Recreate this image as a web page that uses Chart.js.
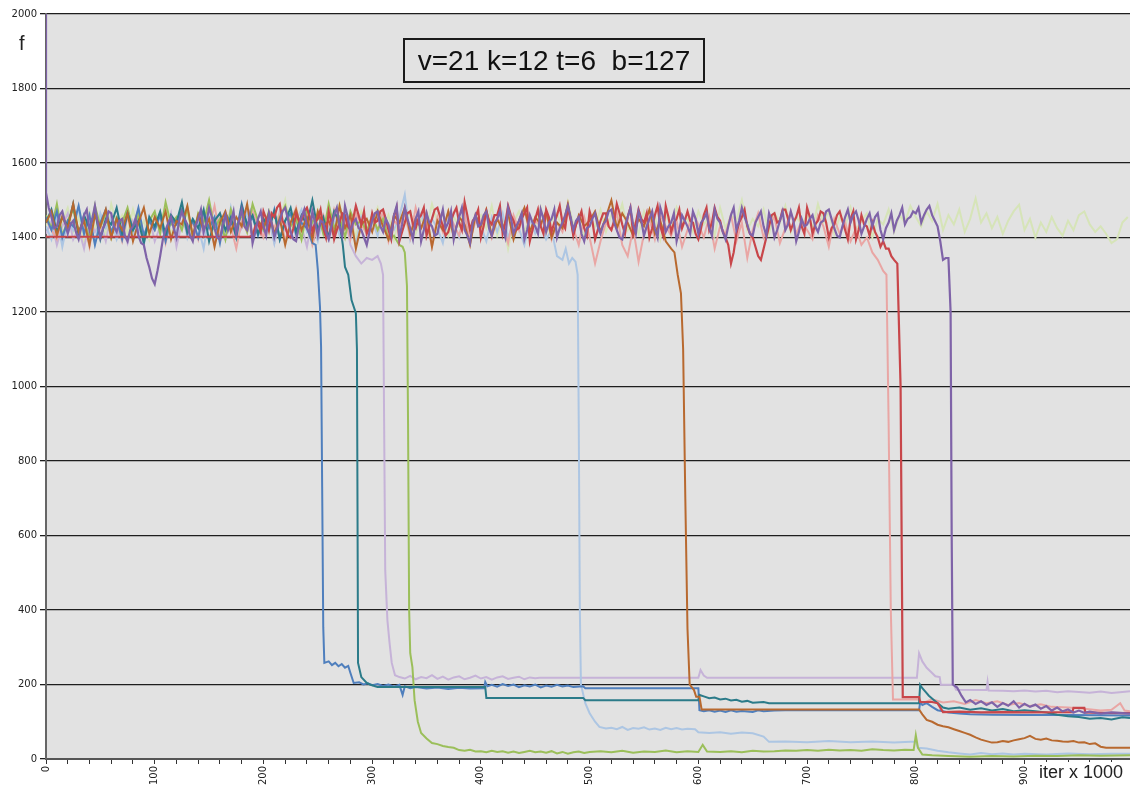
<!DOCTYPE html>
<html>
<head>
<meta charset="utf-8">
<script src="https://cdn.jsdelivr.net/npm/chart.js@4/dist/chart.umd.min.js"></script>
<style>
  body { margin: 0; background: #fff; }
  #wrap { position: relative; width: 1130px; height: 789px; }
  #titleBox {
    position: absolute; left: 403px; top: 38px; width: 298px; height: 41px;
    border: 2px solid #1a1a1a; font: 28px "Liberation Sans", Arial, sans-serif;
    color: #111; white-space: pre; text-align: center; line-height: 42px;
  }
  #yLabel { position: absolute; left: 19px; top: 32px; font: 20px "Liberation Sans", Arial, sans-serif; color: #222; }
  #xLabel { position: absolute; left: 1037px; top: 762px; font: 18px "Liberation Sans", Arial, sans-serif; color: #222; background: #fff; padding-left: 2px; }
</style>
</head>
<body>
<div id="wrap">
  <canvas id="grafico" width="1130" height="789"></canvas>
  <div id="titleBox">v=21 k=12 t=6  b=127</div>
  <div id="yLabel">f</div>
  <div id="xLabel">iter x 1000</div>
</div>
<script>
// purple: spike at start, plateau 0..827.5 (step 2.5), drop at ~832
const purpleHead = [[0, 2000]];
const purpleNoise = [
  1520,1480,1455,1425,1430,1460,1470,1440,1410,1435,1445,1415,1395,1430,1460,1475,1420,1450,1485,1440,
  1400,1425,1440,1470,1465,1430,1415,1445,1450,1405,1390,1420,1430,1450,1405,1385,1380,1345,1320,1290,
  1275,1310,1350,1395,1420,1440,1455,1425,1400,1445,1470,1450,1435,1405,1390,1430,1450,1475,1415,1440,
  1480,1455,1425,1400,1395,1435,1460,1420,1440,1470,1410,1445,1475,1430,1420,1460,1385,1415,1450,1470,
  1430,1405,1465,1440,1400,1425,1445,1470,1480,1450,1415,1395,1390,1430,1455,1475,1425,1410,1470,1440,
  1405,1445,1440,1415,1395,1430,1460,1480,1430,1405,1485,1455,1410,1440,1450,1425,1420,1400,1380,1415,
  1445,1465,1470,1430,1415,1450,1435,1405,1460,1485,1400,1435,1480,1450,1425,1395,1450,1470,1390,1420,
  1465,1440,1430,1405,1410,1445,1475,1425,1440,1470,1395,1430,1455,1480,1420,1405,1385,1440,1460,1430,
  1435,1460,1470,1425,1405,1440,1450,1470,1425,1400,1480,1455,1410,1430,1445,1465,1395,1420,1460,1440,
  1430,1410,1475,1450,1415,1440,1450,1475,1400,1425,1440,1460,1485,1455,1420,1445,1455,1410,1390,1425,
  1430,1450,1465,1430,1410,1435,1445,1470,1475,1440,1420,1400,1395,1430,1455,1480,1435,1410,1470,1445,
  1405,1430,1450,1470,1425,1400,1480,1455,1415,1430,1440,1465,1390,1420,1460,1445,1430,1410,1470,1450,
  1410,1440,1450,1465,1425,1405,1475,1450,1440,1415,1395,1430,1460,1480,1420,1445,1480,1455,1435,1410,
  1405,1440,1455,1470,1430,1405,1465,1445,1400,1420,1445,1470,1420,1435,1470,1445,1390,1415,1450,1430,
  1435,1450,1460,1430,1415,1440,1445,1470,1475,1450,1425,1405,1400,1430,1455,1475,1440,1460,1470,1445,
  1410,1430,1450,1465,1430,1455,1465,1420,1395,1425,1440,1465,1420,1445,1460,1480,1435,1450,1455,1470,
  1465,1480,1440,1460,1475,1485,1460,1445,1430,1390,1340,1345
];
const purpleTail = [
  [830,1345],[832,1200],[833,600],[834,200],[838,192],[842,170],[846,152],[850,158],[855,148],[860,155],
  [865,145],[870,152],[875,140],[880,150],[885,143],[890,155],[895,138],[900,148],[905,140],[910,146],
  [915,135],[920,142],[925,130],[930,138],[935,128],[940,133],[945,125],[950,130],[955,124],[960,127],
  [970,122],[980,125],[997,122]
];

// red: flat best value, then plateau 190..777.5 (step 2.5), drop at ~787
const redHead = [[0,1402],[187,1402]];
const redNoise = [
  1405,1430,1440,1415,1470,1450,1420,1465,1455,1480,1490,1445,1430,1405,1400,1425,1465,1445,1445,1470,
  1480,1455,1415,1440,1450,1475,1425,1400,1470,1440,1395,1420,1440,1465,1460,1430,1420,1450,1485,1460,
  1435,1470,1410,1425,1465,1440,1445,1470,1475,1450,1420,1395,1455,1480,1390,1415,1440,1465,1470,1435,
  1425,1450,1460,1480,1405,1430,1450,1475,1480,1455,1430,1405,1415,1445,1465,1480,1440,1420,1495,1460,
  1420,1445,1455,1475,1400,1430,1470,1445,1435,1460,1460,1485,1410,1440,1485,1460,1445,1420,1425,1450,
  1465,1480,1390,1420,1450,1475,1430,1410,1475,1455,1415,1440,1460,1485,1440,1425,1480,1450,1405,1435,
  1450,1470,1425,1405,1470,1445,1395,1420,1445,1465,1465,1430,1420,1445,1490,1465,1435,1410,1455,1480,
  1410,1440,1475,1450,1440,1465,1400,1425,1460,1485,1430,1405,1485,1455,1415,1440,1450,1475,1425,1445,
  1470,1445,1440,1410,1395,1425,1460,1480,1420,1440,1480,1455,1445,1415,1400,1380,1330,1360,1410,1440,
  1455,1475,1430,1410,1400,1375,1350,1340,1370,1400,1430,1460,1465,1440,1445,1475,1475,1450,1420,1440,
  1455,1480,1430,1410,1480,1455,1410,1435,1445,1470,1465,1440,1400,1425,1435,1460,1470,1445,1420,1395,
  1450,1470,1395,1420,1460,1435,1430,1405,1440,1415,1400,1375,1390,1370,1370,1350
];
const redTail = [
  [780,1340],[783,1330],[786,1000],[788,166],[795,166],[803,166],[804,153],[815,153],[820,150],[825,126],
  [840,127],[860,125],[880,126],[900,125],[944,126],[945,137],[955,137],[956,125],[970,124],[997,123]
];

// pink: plateau 0..770 (step 5), drop at ~776
const pinkNoise = [
  1450,1420,1395,1465,1430,1480,1405,1445,1375,1460,1425,1470,1410,1440,1390,1455,1430,1475,1400,1445,
  1420,1465,1385,1450,1435,1475,1410,1440,1395,1460,1425,1485,1405,1450,1430,1370,1445,1415,1470,1435,
  1400,1455,1425,1465,1390,1440,1480,1415,1450,1380,1430,1460,1405,1475,1425,1445,1395,1465,1435,1410,
  1455,1420,1470,1390,1445,1430,1465,1400,1480,1425,1440,1375,1455,1415,1470,1435,1405,1460,1390,1445,
  1425,1470,1400,1450,1435,1385,1460,1420,1475,1410,1445,1430,1465,1395,1440,1415,1470,1425,1380,1455,
  1400,1330,1390,1440,1420,1465,1380,1350,1425,1335,1410,1450,1395,1460,1430,1405,1445,1375,1420,1465,
  1435,1400,1455,1370,1430,1410,1460,1390,1440,1345,1420,1465,1400,1435,1455,1385,1425,1470,1410,1445,
  1420,1395,1460,1430,1375,1450,1410,1440,1390,1425,1380,1400,1360,1340,1310
];
const pinkTail = [
  [773,1300],[775,900],[777,400],[779,160],[790,160],[803,160],[806,150],[815,160],[825,152],[835,155],
  [845,148],[855,158],[865,150],[875,155],[885,145],[895,150],[905,142],[915,147],[925,140],[940,138],
  [955,135],[970,130],[980,132],[988,150],[992,130],[997,128]
];

// brown: plateau 0..575 (step 5), drop at ~588
const brownNoise = [
  1440,1470,1405,1455,1425,1490,1415,1445,1380,1460,1430,1475,1400,1450,1420,1465,1390,1440,1480,1410,
  1455,1425,1470,1395,1445,1435,1485,1405,1460,1420,1450,1375,1440,1470,1415,1455,1430,1490,1400,1445,
  1425,1465,1410,1450,1380,1440,1475,1420,1455,1395,1470,1430,1445,1405,1485,1425,1460,1370,1435,1450,
  1415,1470,1430,1395,1460,1440,1480,1410,1450,1425,1465,1375,1445,1420,1470,1400,1455,1435,1380,1460,
  1430,1475,1405,1450,1420,1465,1395,1445,1480,1415,1455,1435,1470,1400,1440,1425,1490,1410,1460,1430,
  1445,1470,1415,1455,1500,1425,1465,1440,1405,1450,1430,1475,1410,1445,1390,1370
];
const brownTail = [
  [578,1360],[581,1300],[584,1250],[586,1100],[588,700],[590,350],[592,200],[596,185],[598,167],[601,167],
  [603,133],[803,133],[806,120],[810,105],[815,100],[820,92],[825,88],[830,85],[835,80],[840,75],
  [845,70],[850,65],[855,58],[860,52],[865,48],[870,44],[875,45],[880,48],[885,46],[890,50],
  [895,53],[900,56],[905,62],[910,54],[915,52],[920,55],[925,50],[930,49],[935,47],[940,46],
  [945,48],[950,44],[955,45],[960,40],[965,42],[970,33],[975,30],[997,30]
];

// light blue: plateau 0..470 (step 5), drop at ~490
const lightBlueNoise = [
  1430,1395,1460,1375,1445,1420,1480,1405,1440,1385,1465,1425,1450,1395,1435,1470,1410,1445,1380,1455,
  1425,1465,1390,1440,1415,1475,1400,1450,1430,1370,1460,1420,1445,1395,1480,1410,1435,1465,1405,1440,
  1420,1455,1385,1470,1430,1400,1445,1475,1415,1440,1390,1460,1425,1450,1405,1465,1435,1380,1455,1420,
  1445,1405,1470,1430,1420,1455,1515,1395,1440,1465,1410,1450,1425,1385,1460,1435,1400,1470,1420,1445,
  1430,1390,1455,1415,1465,1400,1440,1425,1380,1450,1410,1435,1395,1420,1350
];
const lightBlueTail = [
  [475,1340],[478,1370],[481,1330],[484,1345],[487,1335],[489,1300],[490,900],[491,400],[492,200],[496,150],
  [500,123],[505,100],[509,86],[515,82],[520,84],[525,80],[530,86],[535,78],[540,83],[545,81],
  [550,85],[555,79],[560,82],[565,78],[570,84],[575,80],[580,83],[585,79],[590,81],[597,80],
  [600,72],[610,70],[620,72],[630,68],[640,71],[650,69],[660,60],[665,46],[680,47],[700,45],
  [720,48],[740,45],[760,47],[780,44],[795,46],[800,46],[802,30],[810,28],[820,22],[830,18],
  [840,15],[850,12],[860,16],[870,13],[880,15],[890,12],[900,14],[920,12],[940,15],[960,13],
  [980,14],[997,14]
];

// green: plateau 0..325 (step 5), drop at ~333
const greenNoise = [
  1460,1425,1490,1405,1445,1475,1415,1450,1395,1485,1430,1465,1400,1455,1440,1480,1420,1460,1390,1445,
  1470,1410,1495,1435,1455,1420,1480,1400,1465,1440,1500,1425,1450,1395,1475,1430,1460,1415,1490,1445,
  1420,1470,1405,1455,1485,1430,1450,1395,1475,1440,1465,1410,1490,1425,1455,1400,1470,1435,1445,1415,
  1460,1420,1450,1395,1405,1380
];
const greenTail = [
  [328,1375],[330,1360],[332,1270],[333,900],[334,400],[335,284],[337,247],[339,158],[342,100],[345,70],
  [350,55],[355,43],[360,40],[365,35],[370,32],[375,30],[380,24],[385,22],[390,25],[395,20],
  [400,21],[405,18],[410,22],[415,19],[420,21],[425,17],[430,20],[435,16],[440,19],[445,22],
  [450,18],[455,20],[460,17],[465,21],[470,15],[475,19],[480,14],[485,18],[490,20],[495,16],
  [500,19],[510,21],[520,18],[530,22],[540,17],[550,20],[560,19],[570,23],[580,18],[590,21],
  [600,19],[604,38],[608,20],[620,19],[630,21],[640,18],[650,22],[660,20],[670,21],[680,23],
  [690,22],[700,24],[710,22],[720,25],[730,23],[740,24],[750,22],[760,26],[770,24],[780,23],
  [790,25],[798,24],[800,64],[802,30],[806,12],[815,10],[830,8],[850,6],[870,8],[890,7],
  [910,9],[930,8],[950,10],[970,9],[997,10]
];

// lavender: plateau 0..295 (step 5), drop at ~311
const lavenderNoise = [
  1410,1445,1380,1430,1465,1395,1425,1370,1450,1415,1440,1390,1460,1405,1435,1385,1445,1420,1400,1455,
  1390,1430,1410,1465,1375,1440,1420,1395,1450,1405,1435,1380,1460,1415,1445,1400,1425,1470,1390,1435,
  1415,1450,1385,1440,1420,1465,1400,1430,1375,1455,1410,1445,1395,1435,1420,1460,1380,1350,1330,1345
];
const lavenderTail = [
  [300,1340],[305,1350],[308,1330],[310,1300],[311,900],[312,507],[314,373],[316,311],[318,258],[321,225],
  [325,220],[330,216],[335,223],[340,214],[345,220],[350,217],[355,225],[360,215],[365,221],[370,213],
  [375,219],[380,222],[385,214],[390,218],[395,224],[400,216],[405,220],[410,213],[415,219],[420,222],
  [425,215],[430,218],[435,221],[440,214],[445,219],[450,217],[454,218],[600,218],[602,239],[605,224],
  [608,218],[801,218],[803,284],[806,262],[810,245],[815,231],[818,222],[822,220],[823,199],[835,199],
  [837,186],[865,185],[866,207],[867,184],[880,183],[890,182],[900,184],[910,181],[920,183],[930,179],
  [940,182],[950,180],[960,178],[970,181],[980,177],[990,180],[997,182]
];

// teal: plateau 0..270 (step 5), drop at ~286
const tealNoise = [
  1440,1475,1415,1455,1430,1490,1405,1460,1425,1470,1395,1450,1435,1480,1410,1465,1420,1445,1385,1455,
  1430,1470,1405,1460,1440,1495,1415,1450,1425,1475,1390,1445,1465,1420,1455,1400,1485,1435,1460,1410,
  1450,1425,1470,1395,1445,1480,1415,1460,1435,1500,1420,1455,1400,1470,1440
];
const tealTail = [
  [273,1380],[275,1321],[278,1300],[281,1232],[285,1197],[286,1100],[287,258],[290,220],[295,204],[298,200],
  [302,196],[305,193],[404,193],[405,164],[494,164],[496,158],[600,158],[601,172],[605,168],[610,163],
  [615,165],[620,160],[625,162],[630,157],[635,159],[640,154],[645,156],[650,151],[660,153],[665,150],
  [803,150],[804,199],[806,190],[809,180],[812,170],[816,160],[820,150],[825,138],[830,135],[840,138],
  [850,132],[860,136],[870,130],[880,134],[890,128],[900,131],[910,128],[920,125],[930,119],[940,115],
  [950,113],[960,108],[970,110],[980,106],[990,112],[997,110]
];

// blue: plateau 0..245 (step 5), drop at ~254
const blueNoise = [
  1455,1420,1470,1400,1445,1430,1485,1410,1460,1380,1440,1475,1415,1450,1395,1465,1425,1480,1405,1445,
  1420,1460,1390,1450,1435,1475,1410,1445,1400,1470,1425,1455,1385,1465,1440,1415,1490,1430,1455,1405,
  1450,1420,1475,1395,1445,1465,1410,1440,1425,1385
];
const blueTail = [
  [248,1380],[250,1313],[252,1213],[253,1106],[254,730],[255,354],[256,258],[260,262],[263,252],[266,258],
  [269,249],[272,255],[275,245],[278,250],[280,231],[283,204],[288,206],[292,200],[296,203],[300,198],
  [305,201],[310,196],[315,200],[320,194],[325,199],[328,172],[330,195],[335,190],[340,193],[350,189],
  [360,192],[370,188],[380,191],[390,189],[403,190],[404,207],[406,195],[410,199],[415,194],[420,201],
  [425,196],[430,200],[435,193],[440,198],[445,195],[450,200],[455,192],[460,197],[465,194],[470,199],
  [475,195],[480,197],[485,193],[494,195],[496,190],[600,190],[601,131],[605,128],[610,131],[615,127],
  [620,130],[625,126],[630,131],[635,127],[640,129],[650,126],[655,131],[660,128],[670,130],[680,131],
  [803,131],[804,153],[806,145],[810,150],[815,140],[820,131],[825,128],[830,125],[840,122],[850,120],
  [870,119],[900,118],[940,118],[997,117]
];

// light green: never drops (step 5)
const lightGreenNoise = [
  1430,1465,1400,1445,1480,1415,1455,1390,1470,1425,1450,1405,1490,1435,1460,1410,1475,1420,1445,1395,
  1465,1430,1485,1410,1450,1425,1470,1400,1455,1440,1495,1415,1460,1435,1475,1405,1445,1420,1480,1430,
  1455,1410,1470,1440,1500,1420,1460,1395,1450,1430,1475,1415,1465,1440,1490,1425,1455,1400,1470,1435,
  1445,1480,1420,1460,1395,1455,1435,1470,1410,1450,1425,1490,1440,1465,1405,1455,1430,1475,1415,1445,
  1460,1425,1485,1405,1450,1370,1440,1470,1415,1455,1430,1480,1410,1445,1465,1420,1495,1435,1450,1400,
  1455,1430,1475,1415,1460,1440,1490,1420,1445,1410,1470,1435,1455,1395,1465,1425,1480,1440,1450,1415,
  1470,1435,1455,1405,1480,1425,1460,1445,1500,1420,1450,1430,1475,1410,1465,1440,1485,1415,1455,1435,
  1460,1425,1490,1440,1470,1410,1455,1430,1480,1420,1445,1465,1400,1450,1435,1475,1415,1460,1440,1485,
  1455,1430,1470,1445,1490,1420,1460,1435,1475,1415,1450,1505,1440,1465,1425,1455,1410,1445,1470,1488,
  1420,1450,1400,1440,1415,1455,1425,1405,1445,1420,1460,1470,1435,1415,1430,1410,1385,1395,1440,1455
];

const xTicksMajor = [0, 100, 200, 300, 400, 500, 600, 700, 800, 900];

function toPoints(head, noise, start, step, tail) {
  const pts = head.map(p => ({ x: p[0], y: p[1] }));
  noise.forEach((y, i) => pts.push({ x: start + i * step, y: y }));
  tail.forEach(p => pts.push({ x: p[0], y: p[1] }));
  return pts;
}

function linea(pts, color, width) {
  return { data: pts, borderColor: color, borderWidth: width || 2, pointRadius: 0, tension: 0, fill: false };
}

// first dataset is painted on top
const datasets = [
  linea(toPoints(purpleHead, purpleNoise, 0, 2.5, purpleTail), '#7f63a8', 2.2),
  linea(toPoints(redHead, redNoise, 190, 2.5, redTail), '#c8464a', 2.2),
  linea(toPoints([], brownNoise, 0, 5, brownTail), '#b8692f'),
  linea(toPoints([], tealNoise, 0, 5, tealTail), '#2b7b89'),
  linea(toPoints([], blueNoise, 0, 5, blueTail), '#4f7fbd'),
  linea(toPoints([], greenNoise, 0, 5, greenTail), '#9bbf5a'),
  linea(toPoints([], pinkNoise, 0, 5, pinkTail), '#e9a6a4'),
  linea(toPoints([], lightBlueNoise, 0, 5, lightBlueTail), '#adc6e3'),
  linea(toPoints([], lavenderNoise, 0, 5, lavenderTail), '#c6b3d8'),
  linea(toPoints([], lightGreenNoise, 0, 5, []), '#d6e4b8')
];

// gray plot area
const fondoGris = {
  id: 'fondoGris',
  beforeDraw(chart) {
    const a = chart.chartArea;
    const ctx = chart.ctx;
    ctx.save();
    ctx.fillStyle = '#e2e2e2';
    ctx.fillRect(a.left, a.top, a.right - a.left, a.bottom - a.top);
    ctx.restore();
  }
};

const ctx = document.getElementById('grafico').getContext('2d');
new Chart(ctx, {
  type: 'line',
  data: { datasets: datasets },
  plugins: [fondoGris],
  options: {
    responsive: false,
    animation: false,
    plugins: { legend: { display: false }, tooltip: { enabled: false } },
    layout: { padding: { top: 14, right: 0, left: 0, bottom: 0 } },
    scales: {
      x: {
        type: 'linear', min: 0, max: 997,
        afterFit: s => { s.height = 30; },
        ticks: {
          stepSize: 20, autoSkip: false, includeBounds: false,
          maxRotation: 90, minRotation: 90, padding: 2,
          color: '#222', font: { family: 'DejaVu Sans', size: 10 },
          callback: v => xTicksMajor.includes(v) ? String(v) : ''
        },
        grid: { drawOnChartArea: false, drawTicks: true, tickLength: 5, color: '#333' },
        border: { color: '#555', width: 2 }
      },
      y: {
        min: 0, max: 2000,
        afterFit: s => { s.width = 46; },
        ticks: {
          stepSize: 200, padding: 3, color: '#222', font: { family: 'DejaVu Sans', size: 10 },
          callback: v => String(v)
        },
        grid: { color: '#1e1e1e', lineWidth: 1.3, tickLength: 6 },
        border: { color: '#666', width: 2 }
      }
    }
  }
});
</script>
</body>
</html>
